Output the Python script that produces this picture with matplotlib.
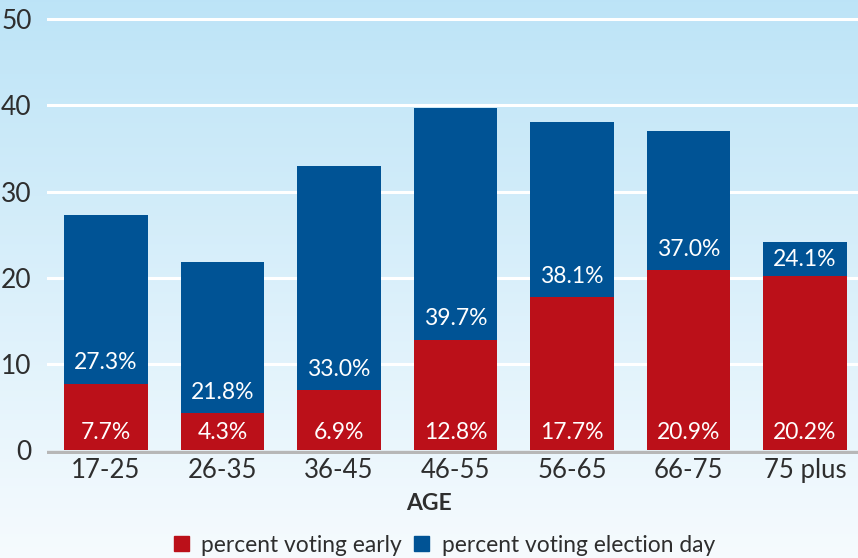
import numpy as np
import matplotlib.pyplot as plt
from matplotlib.patches import Patch

ages = ['17-25', '26-35', '36-45', '46-55', '56-65', '66-75', '75 plus']
early = [7.7, 4.3, 6.9, 12.8, 17.7, 20.9, 20.2]
election_day = [27.3, 21.8, 33.0, 39.7, 38.1, 37.0, 24.1]
yticks = [0, 10, 20, 30, 40, 50]

red = '#bb1019'
blue = '#005395'
text_col = '#2e2e2e'

plt.rcParams['font.family'] = ['Lato', 'DejaVu Sans']

fig = plt.figure(figsize=(8.58, 5.58), dpi=100)

# gradient background
bg = fig.add_axes([0, 0, 1, 1], zorder=-10)
grad = np.linspace(0, 1, 256).reshape(-1, 1)
top = np.array([0.741, 0.894, 0.969])
bot = np.array([0.965, 0.984, 0.996])
img = top[None, None, :] * (1 - grad[:, :, None]) + bot[None, None, :] * grad[:, :, None]
bg.imshow(img, aspect='auto', extent=[0, 1, 0, 1])
bg.axis('off')

ax = fig.add_axes([47 / 858, 103.9 / 558, 1 - 47 / 858, 443.4 / 558])
ax.patch.set_alpha(0)
x = np.arange(len(ages))
w = 0.72

for y in yticks[1:]:
    ax.axhline(y, color='white', lw=2.2, zorder=1)
ax.axhline(-0.2, color='#b7b7b7', lw=2.4, zorder=1)

ax.bar(x, election_day, width=w, color=blue, zorder=2)
ax.bar(x, early, width=w, color=red, zorder=3)

for i in range(len(ages)):
    ax.text(x[i], 2.0, f'{early[i]:.1f}%', ha='center', va='center',
            color='white', fontsize=16.5, zorder=4)
    ly = min(early[i] + 2.4, (early[i] + election_day[i]) / 2)
    ax.text(x[i], ly, f'{election_day[i]:.1f}%', ha='center', va='center',
            color='white', fontsize=16.5, zorder=4)

ax.set_xlim(-0.506, 6.455)
ax.set_ylim(-0.5, 51)
ax.set_yticks(yticks)
ax.set_yticklabels([str(t) for t in yticks], fontsize=19, color=text_col)
ax.set_xticks(x)
ax.set_xticklabels(ages, fontsize=18.5, color=text_col)
ax.tick_params(axis='y', length=0, pad=11)
ax.tick_params(axis='x', length=0, pad=3)
for s in ax.spines.values():
    s.set_visible(False)

fig.text(0.5, 1 - 503 / 558, 'AGE', ha='center', va='center',
         fontsize=16.5, fontweight='bold', color=text_col)

handles = [Patch(color=red, label='percent voting early'),
           Patch(color=blue, label='percent voting election day')]
fig.legend(handles=handles, loc='center', bbox_to_anchor=(0.518, 1 - 545 / 558),
           ncol=2, frameon=False, handlelength=0.65, handleheight=0.65,
           handletextpad=0.55, columnspacing=0.55, labelcolor=text_col,
           prop={'size': 16.4})

fig.savefig('out.png', dpi=100)
